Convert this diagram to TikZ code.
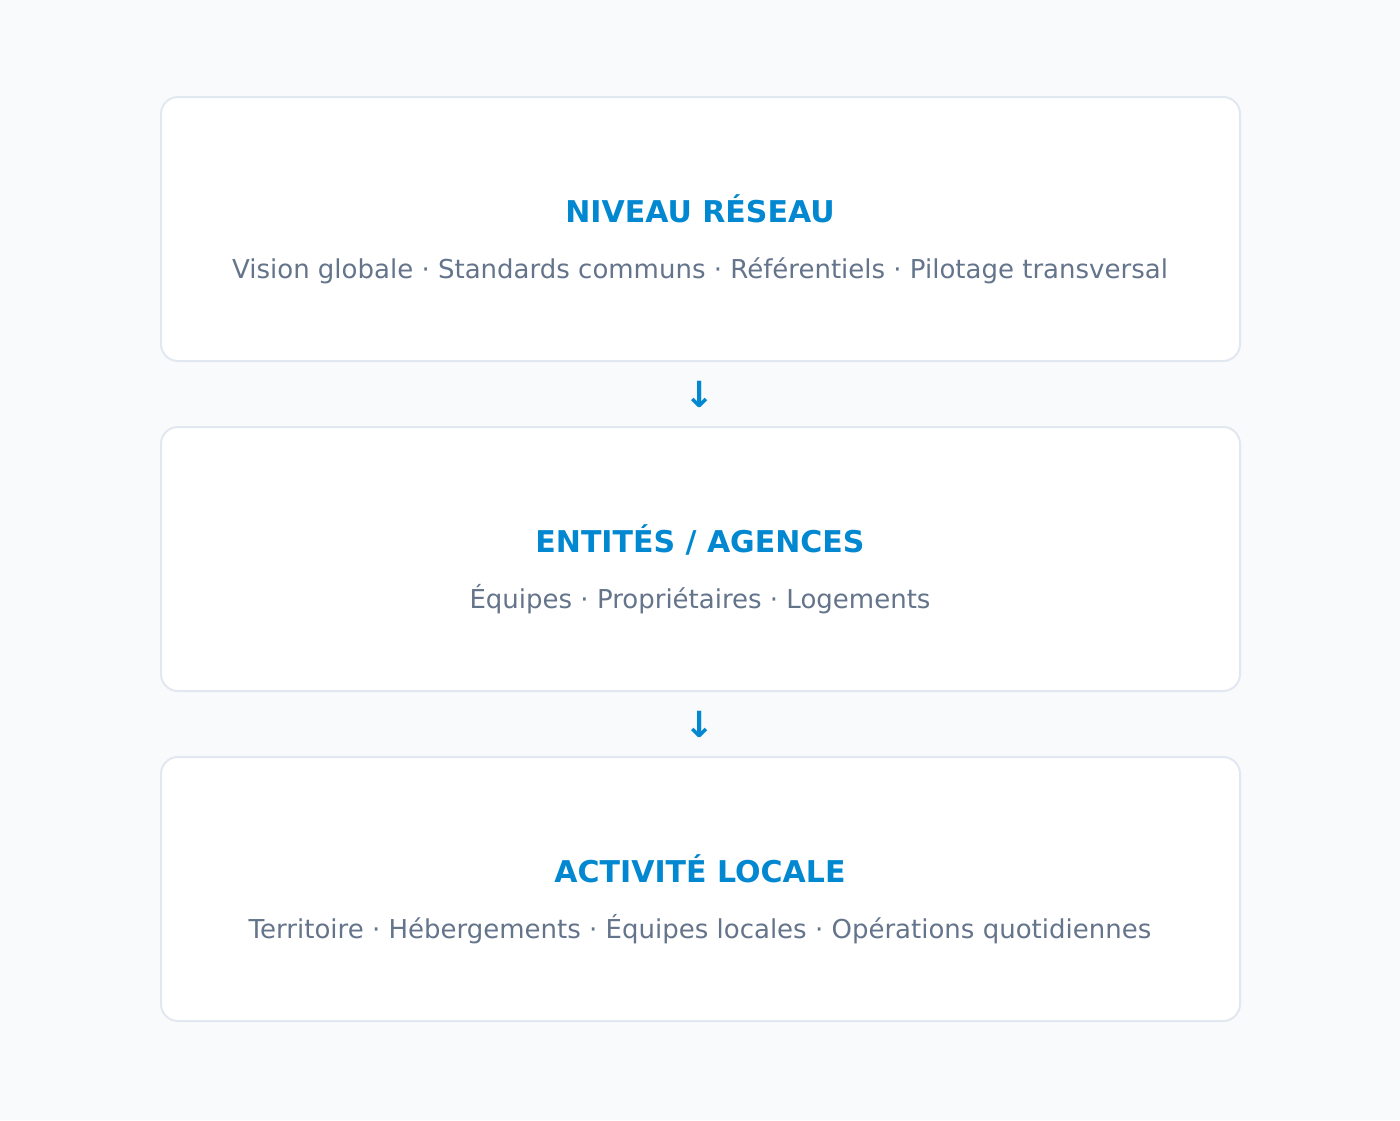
\documentclass[tikz,border=0pt]{standalone}
\usepackage{fontspec}
\setmainfont{DejaVu Sans}
\definecolor{bgc}{HTML}{F8FAFC}
\definecolor{bordc}{HTML}{E2E8F0}
\definecolor{titc}{HTML}{0288D1}
\definecolor{subc}{HTML}{64748B}
\tikzset{
  layerbox/.style={draw=bordc, line width=2pt, fill=white, rounded corners=17pt},
  titletext/.style={anchor=base, inner sep=0pt, text=titc, font=\fontsize{30}{32}\selectfont\bfseries},
  subtext/.style={anchor=base, inner sep=0pt, text=subc, font=\fontsize{26}{30}\selectfont},
  arrowtext/.style={anchor=center, inner sep=0pt, text=titc, font=\fontsize{36}{38}\selectfont\bfseries}
}
\begin{document}
\begin{tikzpicture}[x=1pt,y=-1pt]
\useasboundingbox[fill=bgc] (0,0) rectangle (1400,1120);
\draw[layerbox] (161,97) rectangle (1240,361);
\draw[layerbox] (161,427) rectangle (1240,691);
\draw[layerbox] (161,757) rectangle (1240,1021);
\node[titletext] (t1) at (700,222.7) {NIVEAU RÉSEAU};
\node[subtext] (s1) at (700,278.3) {Vision globale · Standards communs · Référentiels · Pilotage transversal};
\node[titletext] (t2) at (700,552.7) {ENTITÉS / AGENCES};
\node[subtext] (s2) at (700,608.3) {Équipes · Propriétaires · Logements};
\node[titletext] (t3) at (700,882.7) {ACTIVITÉ LOCALE};
\node[subtext] (s3) at (700,938.3) {Territoire · Hébergements · Équipes locales · Opérations quotidiennes};
\node[arrowtext] (a1) at (700,394) {↓};
\node[arrowtext] (a2) at (700,724) {↓};
\end{tikzpicture}
\end{document}
